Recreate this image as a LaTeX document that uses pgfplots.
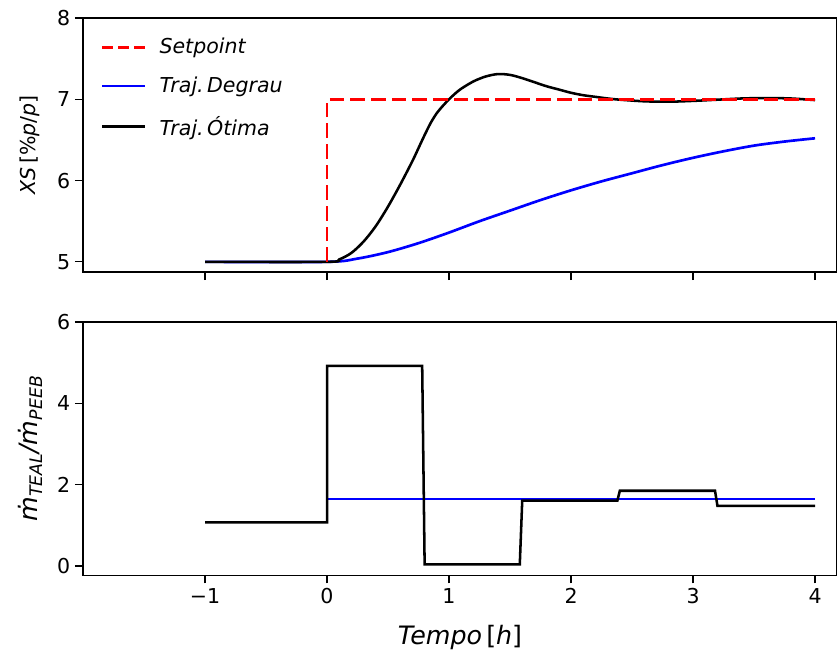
\documentclass[border=0pt]{standalone}
\usepackage{fontspec}
\setmainfont{DejaVu Sans}
\usepackage{pgfplots}
\pgfplotsset{compat=1.18}

\pgfplotstableread{
x y
-1 5
0 5
0.1 5.03
0.2 5.11
0.3 5.25
0.4 5.44
0.5 5.68
0.6 5.95
0.7 6.24
0.75 6.40
0.8 6.56
0.85 6.71
0.9 6.83
0.95 6.92
1.0 7.00
1.05 7.07
1.1 7.13
1.2 7.22
1.3 7.28
1.4 7.31
1.5 7.30
1.6 7.26
1.7 7.21
1.8 7.16
1.9 7.12
2.0 7.08
2.1 7.05
2.2 7.03
2.3 7.01
2.4 6.995
2.6 6.975
2.8 6.97
3.0 6.98
3.2 6.995
3.4 7.01
3.6 7.015
3.8 7.01
4.0 6.99
}\otima

\pgfplotstableread{
x y
-1 5
0 5
0.25 5.04
0.5 5.12
0.75 5.23
1.0 5.36
1.25 5.50
1.5 5.63
1.75 5.76
2.0 5.88
2.25 5.99
2.5 6.09
2.75 6.19
3.0 6.28
3.25 6.36
3.5 6.43
3.75 6.48
4.0 6.52
}\degrau

\pgfplotstableread{
x y
-1 1.07
0 1.07
0 4.92
0.78 4.92
0.80 0.04
1.58 0.04
1.60 1.61
2.38 1.61
2.40 1.85
3.18 1.85
3.20 1.48
4.0 1.48
}\razaootima

\begin{document}
\begin{tikzpicture}
\pgfplotsset{panel/.style={
  scale only axis, width=565.5pt,
  xmin=-2, xmax=4.18, xtick={-1,0,1,2,3,4},
  tick pos=left, tick align=outside, major tick length=6pt,
  axis line style={black, line width=0.9pt},
  tick style={black, line width=0.9pt},
  tick label style={font=\fontsize{15.4}{18}\selectfont},
  /pgf/number format/assume math mode=true,
  y label style={at={(axis description cs:-0.07,0.5)}, anchor=center},
}}
% painel superior: XS
\begin{axis}[panel, name=top,
  at={(0,227.5pt)}, anchor=south west, height=190.5pt,
  ymin=4.875, ymax=8, ytick={5,6,7,8},
  xticklabels={},
  ylabel={\fontsize{15.4}{18}\selectfont\textit{XS}\,[\%\textit{p}/\textit{p}]},
  legend style={draw=none, fill=none, at={(axis description cs:0,1)},
    anchor=north west, xshift=10pt, yshift=-11pt,
    font=\fontsize{15.4}{18}\selectfont, row sep=12pt},
  legend cell align=left,
  legend image code/.code={\draw[#1] (0pt,0pt) -- (32pt,0pt); \path (40pt,0pt);}
]
\addlegendimage{red, line width=2.2pt, dash pattern=on 8pt off 4pt}
\addlegendentry{\textit{Setpoint}}
\addlegendimage{blue, line width=2pt}
\addlegendentry{\textit{Traj.\,Degrau}}
\addlegendimage{black, line width=1.9pt}
\addlegendentry{\textit{Traj.\,Ótima}}
\addplot[blue, line width=2pt, smooth, forget plot] table {\degrau};
\addplot[black, line width=1.9pt, smooth, forget plot] table {\otima};
\addplot[red, line width=2.2pt, dash pattern=on 11pt off 4.5pt, forget plot]
  coordinates {(0,5) (0,7) (4,7)};
\end{axis}
% painel inferior: razao de vazoes
\begin{axis}[panel, name=bot,
  at={(0,0)}, anchor=south west, height=190pt,
  ymin=-0.23, ymax=6, ytick={0,2,4,6},
  xticklabels={−1,0,1,2,3,4},
  ylabel={\fontsize{19}{22}\selectfont\itshape \.m\raisebox{-3.5pt}{\fontsize{13}{15}\selectfont TEAL}/\.m\raisebox{-3.5pt}{\fontsize{13}{15}\selectfont PEEB}},
  xlabel={\fontsize{19}{22}\selectfont\textit{Tempo}\,[\textit{h}]},
  x label style={at={(axis description cs:0.5,0)}, anchor=base, yshift=-51.75pt}
]
\addplot[blue, line width=2pt] coordinates {(0,1.65) (4,1.65)};
\addplot[black, line width=1.9pt] table {\razaootima};
\end{axis}
\pgfresetboundingbox
\path (-62.25pt,-59.25pt) rectangle (565.5pt,431.5pt);
\end{tikzpicture}
\end{document}
